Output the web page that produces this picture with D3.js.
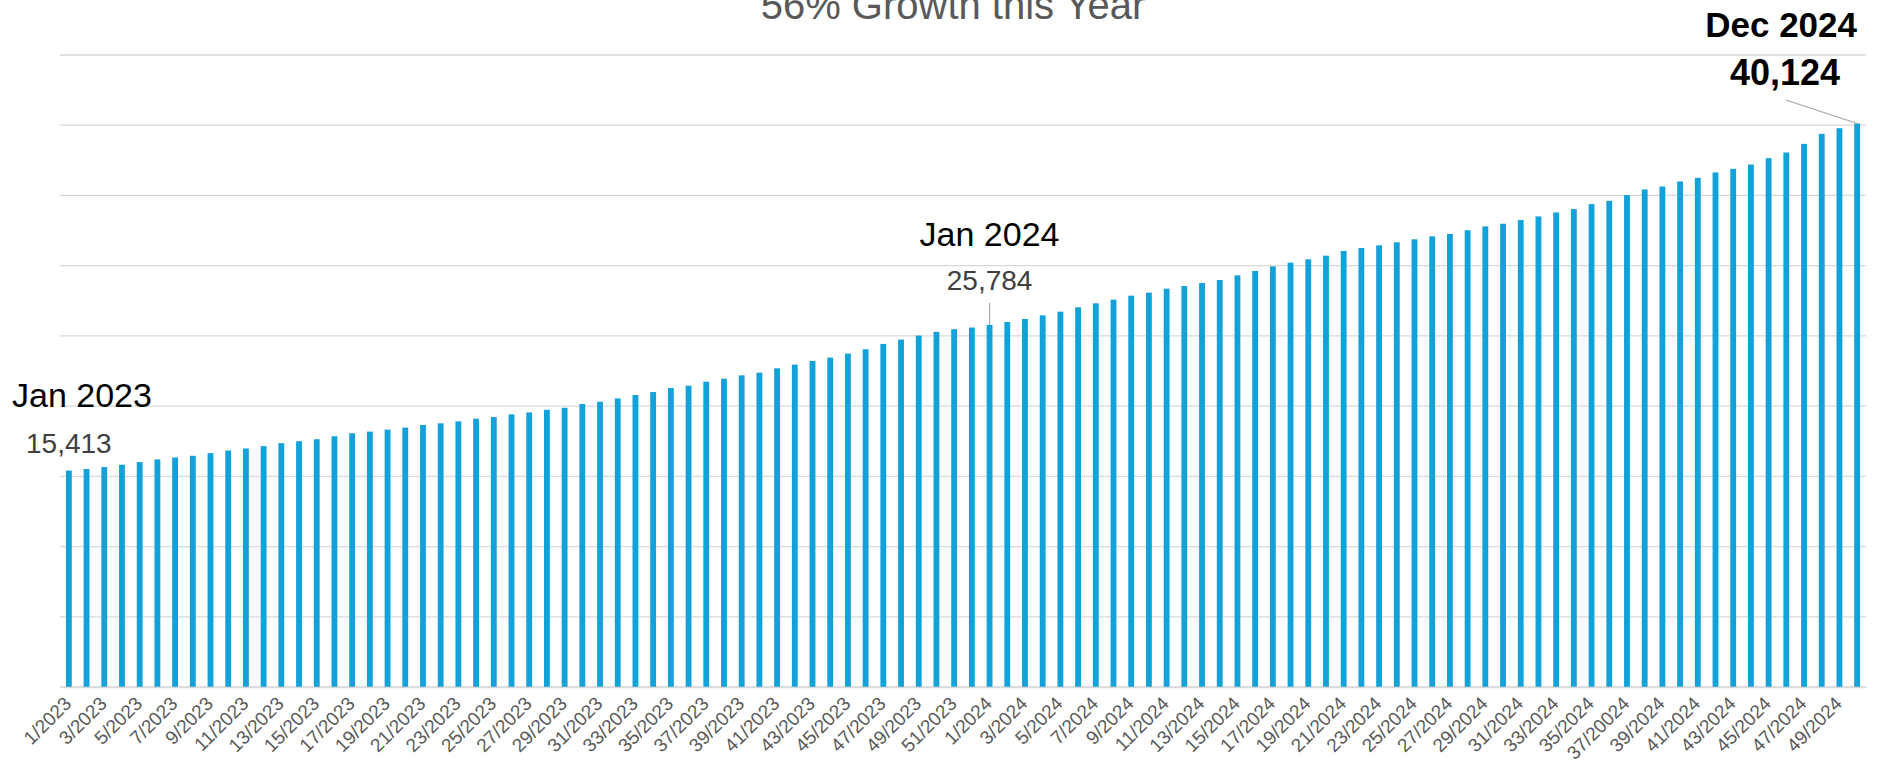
<!DOCTYPE html>
<html>
<head>
<meta charset="utf-8">
<script src="https://cdn.jsdelivr.net/npm/d3@7"></script>
<style>
  body { margin: 0; background: #fff; }
  svg { display: block; }
</style>
</head>
<body>
<svg width="1881" height="768"></svg>
<script>

var title = "56% Growth this Year";

// week labels, as printed on the axis (37/20024 is in the original)
var weeks = [
  "1/2023","2/2023","3/2023","4/2023","5/2023","6/2023","7/2023","8/2023","9/2023","10/2023",
  "11/2023","12/2023","13/2023","14/2023","15/2023","16/2023","17/2023","18/2023","19/2023","20/2023",
  "21/2023","22/2023","23/2023","24/2023","25/2023","26/2023","27/2023","28/2023","29/2023","30/2023",
  "31/2023","32/2023","33/2023","34/2023","35/2023","36/2023","37/2023","38/2023","39/2023","40/2023",
  "41/2023","42/2023","43/2023","44/2023","45/2023","46/2023","47/2023","48/2023","49/2023","50/2023",
  "51/2023","52/2023",
  "1/2024","2/2024","3/2024","4/2024","5/2024","6/2024","7/2024","8/2024","9/2024","10/2024",
  "11/2024","12/2024","13/2024","14/2024","15/2024","16/2024","17/2024","18/2024","19/2024","20/2024",
  "21/2024","22/2024","23/2024","24/2024","25/2024","26/2024","27/2024","28/2024","29/2024","30/2024",
  "31/2024","32/2024","33/2024","34/2024","35/2024","36/2024","37/20024","38/2024","39/2024","40/2024",
  "41/2024","42/2024","43/2024","44/2024","45/2024","46/2024","47/2024","48/2024","49/2024","50/2024"
];

var values = [
  15413, 15520, 15661, 15826, 16015, 16204, 16345, 16463, 16652, 16840,
  16982, 17147, 17359, 17500, 17642, 17854, 18066, 18184, 18326, 18467,
  18656, 18774, 18915, 19104, 19222, 19410, 19550, 19738, 19881, 20143,
  20310, 20548, 20786, 21000, 21286, 21452, 21738, 21952, 22190, 22381,
  22690, 22952, 23214, 23452, 23738, 24048, 24429, 24738, 25024, 25286,
  25476, 25595,
  25784, 25990, 26203, 26464, 26725, 27034, 27319, 27580, 27864, 28078,
  28363, 28553, 28766, 28980, 29312, 29620, 29953, 30214, 30451, 30712,
  31044, 31258, 31448, 31661, 31875, 32088, 32254, 32525, 32795, 32985,
  33245, 33506, 33791, 34028, 34383, 34620, 35023, 35426, 35640, 35995,
  36255, 36635, 36895, 37203, 37654, 38057, 38673, 39384, 39787, 40124
];

var yTicks = [0, 5000, 10000, 15000, 20000, 25000, 30000, 35000, 40000, 45000];

var calloutWeeks = ["1/2023", "1/2024", "50/2024"];
var calloutNames = ["Jan 2023", "Jan 2024", "Dec 2024"];

var svg = d3.select("svg");
var plotLeft = 60, plotRight = 1866, plotTop = 55, plotBottom = 687;

var data = weeks.map(function(w, i) { return {key: w, value: values[i]}; });

var x = d3.scaleBand()
  .domain(weeks)
  .range([plotLeft, plotRight])
  .paddingInner(0.67)
  .paddingOuter(0.335);

var y = d3.scaleLinear()
  .domain([0, 45000])
  .range([plotBottom, plotTop]);

var fmt = d3.format(",");

// gridlines
svg.append("g")
  .selectAll("line")
  .data(yTicks)
  .enter().append("line")
  .attr("x1", plotLeft)
  .attr("x2", plotRight)
  .attr("y1", function(d) { return y(d); })
  .attr("y2", function(d) { return y(d); })
  .attr("stroke", "#d9d9d9")
  .attr("stroke-width", 1.3);

// title (cut at top edge like the original)
svg.append("text")
  .attr("x", 953)
  .attr("y", 19)
  .attr("text-anchor", "middle")
  .attr("font-family", "'Liberation Sans', Arial, sans-serif")
  .attr("font-size", "40px")
  .attr("fill", "#595959")
  .text(title);

// bars
svg.append("g")
  .selectAll("rect")
  .data(data)
  .enter().append("rect")
  .attr("x", function(d) { return x(d.key); })
  .attr("y", function(d) { return y(d.value); })
  .attr("width", x.bandwidth())
  .attr("height", function(d) { return y(0) - y(d.value); })
  .attr("fill", "#12a1d9");

// x axis
var xAxis = d3.axisBottom(x)
  .tickValues(weeks.filter(function(d, i) { return i % 2 == 0; }))
  .tickSize(0)
  .tickPadding(0);

var gx = svg.append("g")
  .attr("transform", "translate(0," + plotBottom + ")")
  .call(xAxis);

gx.select(".domain").attr("stroke", "#d9d9d9").attr("stroke-width", 1.3);

gx.selectAll("text")
  .attr("font-family", "'Liberation Sans', Arial, sans-serif")
  .attr("font-size", "19px")
  .attr("fill", "#595959")
  .attr("text-anchor", "end")
  .attr("y", null)
  .attr("transform", "translate(-1,13) rotate(-45)")
  .attr("dy", "0.35em");

// callouts
function cx(i) { return x(calloutWeeks[i]) + x.bandwidth() / 2; }
function cy(i) { return y(values[weeks.indexOf(calloutWeeks[i])]); }
function cv(i) { return fmt(values[weeks.indexOf(calloutWeeks[i])]); }

var sans = "'Liberation Sans', Arial, sans-serif";

// Jan 2023
svg.append("text")
  .attr("x", 12).attr("y", 407)
  .attr("font-family", sans).attr("font-size", "34px").attr("fill", "#000")
  .text(calloutNames[0]);
svg.append("text")
  .attr("x", cx(0)).attr("y", cy(0) - 18)
  .attr("text-anchor", "middle")
  .attr("font-family", sans).attr("font-size", "28px").attr("fill", "#404040")
  .text(cv(0));

// Jan 2024
svg.append("text")
  .attr("x", cx(1)).attr("y", 246)
  .attr("text-anchor", "middle")
  .attr("font-family", sans).attr("font-size", "34px").attr("fill", "#000")
  .text(calloutNames[1]);
svg.append("text")
  .attr("x", cx(1)).attr("y", 290)
  .attr("text-anchor", "middle")
  .attr("font-family", sans).attr("font-size", "28px").attr("fill", "#404040")
  .text(cv(1));
svg.append("line")
  .attr("x1", cx(1)).attr("x2", cx(1))
  .attr("y1", 303).attr("y2", cy(1))
  .attr("stroke", "#a6a6a6").attr("stroke-width", 1.2);

// Dec 2024
svg.append("text")
  .attr("x", 1857).attr("y", 37)
  .attr("text-anchor", "end")
  .attr("font-family", sans).attr("font-size", "35px").attr("font-weight", "bold").attr("fill", "#000")
  .text(calloutNames[2]);
svg.append("text")
  .attr("x", 1785).attr("y", 85)
  .attr("text-anchor", "middle")
  .attr("font-family", sans).attr("font-size", "36px").attr("font-weight", "bold").attr("fill", "#000")
  .text(cv(2));
svg.append("line")
  .attr("x1", 1786).attr("y1", 100)
  .attr("x2", cx(2)).attr("y2", cy(2))
  .attr("stroke", "#a6a6a6").attr("stroke-width", 1.2);

</script>
</body>
</html>
